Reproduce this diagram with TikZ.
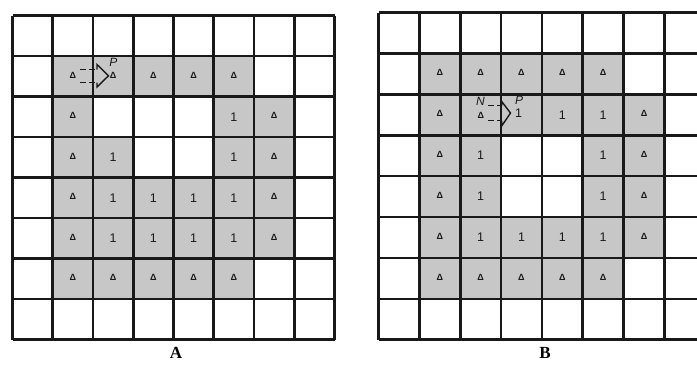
\documentclass[tikz,border=0pt]{standalone}
\usepackage{fontspec}
\setmainfont{Liberation Serif}
\newfontfamily\symfont{Liberation Sans}
\begin{document}
\begin{tikzpicture}[x=1pt,y=-1pt,
  gridline/.style={line width=2.6pt,draw=black!90},
  graycell/.style={fill=black!22},
  trisym/.style={inner sep=0pt,font=\symfont\bfseries\fontsize{9}{9}\selectfont,text=black!90},
  onesym/.style={inner sep=0pt,font=\symfont\fontsize{12.5}{12.5}\selectfont,text=black!90},
  lbl/.style={inner sep=0pt,font=\symfont\itshape\fontsize{12}{12}\selectfont,text=black!90},
  captionlbl/.style={inner sep=0pt,font=\bfseries\fontsize{17}{17}\selectfont},
  arrowline/.style={line width=1.4pt,draw=black!90},
  dashline/.style={line width=1.4pt,draw=black!90,dash pattern=on 5.5pt off 3.5pt}]
\useasboundingbox (0,0) rectangle (697,365);
\clip (0,0) rectangle (697,365);
\fill[white] (0,0) rectangle (697,365);
% ---------- Grid A ----------
\def\ax{12.5}\def\ay{15.5}\def\aw{40.25}\def\ah{40.5}
\foreach \r/\c in {1/1,1/2,1/3,1/4,1/5,
                   2/1,2/5,2/6,
                   3/1,3/2,3/5,3/6,
                   4/1,4/2,4/3,4/4,4/5,4/6,
                   5/1,5/2,5/3,5/4,5/5,5/6,
                   6/1,6/2,6/3,6/4,6/5}
  \fill[graycell] ({\ax+\c*\aw},{\ay+\r*\ah}) rectangle ++(\aw,\ah);
\foreach \i in {0,...,8} {
  \draw[gridline] ({\ax+\i*\aw},\ay) -- ({\ax+\i*\aw},{\ay+8*\ah});
  \draw[gridline] (\ax,{\ay+\i*\ah}) -- ({\ax+8*\aw},{\ay+\i*\ah});
}
\foreach \r/\c in {1/1,1/2,1/3,1/4,1/5,2/1,2/6,3/1,3/6,4/1,4/6,5/1,5/6,6/1,6/2,6/3,6/4,6/5}
  \node[trisym] (A-\r-\c) at ({\ax+(\c+0.5)*\aw},{\ay+(\r+0.5)*\ah-1}) {Δ};
\foreach \r/\c in {2/5,3/2,3/5,4/2,4/3,4/4,4/5,5/2,5/3,5/4,5/5}
  \node[onesym] (A-\r-\c) at ({\ax+(\c+0.5)*\aw},{\ay+(\r+0.5)*\ah}) {1};
\node[lbl] (AP) at (113.5,62.5) {P};
\draw[dashline] (80,69.5) -- (96.5,69.5);
\draw[dashline] (80,82.5) -- (96.5,82.5);
\draw[arrowline] (97,69.5) -- (97,64.5) -- (108.5,75.8) -- (97,87) -- (97,82.5);
\node[captionlbl] (capA) at (176,353) {A};
% ---------- Grid B ----------
\def\bx{378.5}\def\by{12.5}\def\bw{40.85}\def\bh{40.9}
\foreach \r/\c in {1/1,1/2,1/3,1/4,1/5,
                   2/1,2/2,2/3,2/4,2/5,2/6,
                   3/1,3/2,3/5,3/6,
                   4/1,4/2,4/5,4/6,
                   5/1,5/2,5/3,5/4,5/5,5/6,
                   6/1,6/2,6/3,6/4,6/5}
  \fill[graycell] ({\bx+\c*\bw},{\by+\r*\bh}) rectangle ++(\bw,\bh);
\foreach \i in {0,...,8} {
  \draw[gridline] ({\bx+\i*\bw},\by) -- ({\bx+\i*\bw},{\by+8*\bh});
  \draw[gridline] (\bx,{\by+\i*\bh}) -- ({\bx+8*\bw},{\by+\i*\bh});
}
\foreach \r/\c in {1/1,1/2,1/3,1/4,1/5,2/1,2/6,3/1,3/6,4/1,4/6,5/1,5/6,6/1,6/2,6/3,6/4,6/5}
  \node[trisym] (B-\r-\c) at ({\bx+(\c+0.5)*\bw},{\by+(\r+0.5)*\bh-1}) {Δ};
\node[trisym] (B-2-2) at (480.8,115) {Δ};
\node[onesym] (B-2-3) at (518.5,113) {1};
\foreach \r/\c in {2/4,2/5,3/2,3/5,4/2,4/5,5/2,5/3,5/4,5/5}
  \node[onesym] (B-\r-\c) at ({\bx+(\c+0.5)*\bw},{\by+(\r+0.5)*\bh}) {1};
\node[lbl] (BN) at (480.5,101.5) {N};
\node[lbl] (BP) at (519,100.5) {P};
\draw[dashline] (488,105.5) -- (501,105.5);
\draw[dashline] (488,120.5) -- (501,120.5);
\draw[arrowline] (501.7,105.5) -- (501.7,101.5) -- (510.5,113) -- (501.7,126) -- (501.7,120.5);
\node[captionlbl] (capB) at (545,353) {B};
\end{tikzpicture}
\end{document}
